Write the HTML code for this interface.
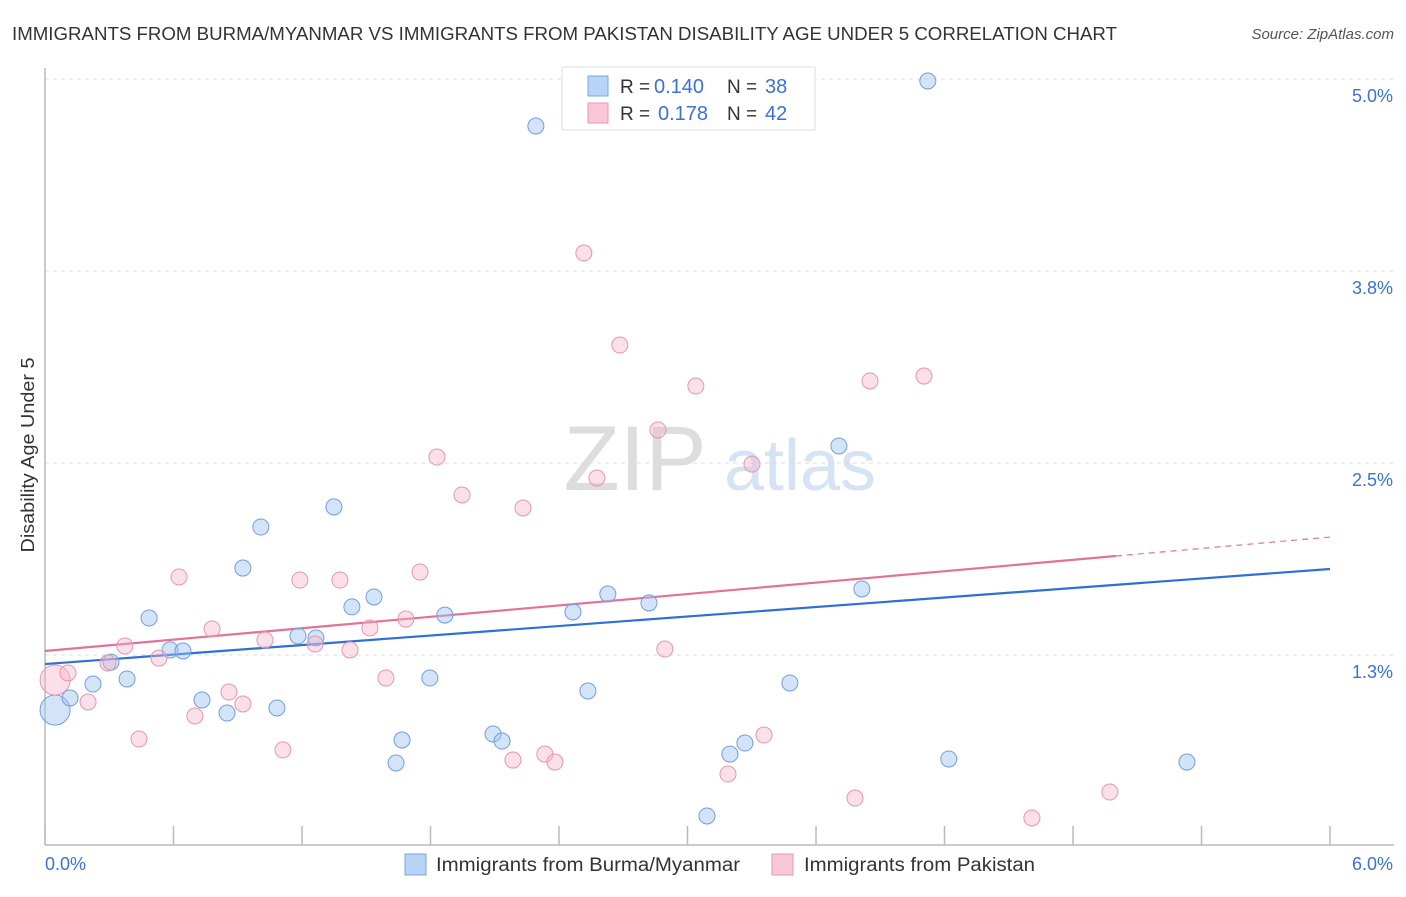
<!DOCTYPE html>
<html><head><meta charset="utf-8"><style>
body{margin:0;background:#fff;font-family:"Liberation Sans",sans-serif;}
svg text{font-family:"Liberation Sans",sans-serif;}
</style></head><body>
<svg id="chart" width="1406" height="892" viewBox="0 0 1406 892" xmlns="http://www.w3.org/2000/svg">
<text x="12" y="40" font-size="18" fill="#333" textLength="1105" lengthAdjust="spacingAndGlyphs">IMMIGRANTS FROM BURMA/MYANMAR VS IMMIGRANTS FROM PAKISTAN DISABILITY AGE UNDER 5 CORRELATION CHART</text>
<text x="1394" y="39" font-size="15" fill="#555" font-style="italic" text-anchor="end">Source: ZipAtlas.com</text>
<text x="635" y="490" font-size="92" fill="#ddd" font-family="Liberation Serif" text-anchor="middle">ZIP</text>
<text x="800" y="490" font-size="72" fill="#d5e3f5" text-anchor="middle">atlas</text>
<text transform="translate(34,455) rotate(-90)" font-size="18" fill="#333" text-anchor="middle" textLength="195" lengthAdjust="spacingAndGlyphs">Disability Age Under 5</text>
<g id="grid"></g><g id="axes"></g><g id="trends"></g><g id="points"></g>
<g>
<rect x="562" y="67" width="253" height="63" fill="#fff" stroke="#ddd"/>
<rect x="588" y="76" width="20" height="20" fill="#b8d3f5" stroke="#7aa7e0"/>
<text x="620" y="93" font-size="19" fill="#333">R =</text>
<text x="654" y="93" font-size="20" fill="#3a72d6">0.140</text>
<text x="727" y="93" font-size="19" fill="#333">N =</text>
<text x="765" y="93" font-size="20" fill="#3a72d6">38</text>
<rect x="588" y="103" width="20" height="20" fill="#f9c6d6" stroke="#e899b3"/>
<text x="620" y="120" font-size="19" fill="#333">R =</text>
<text x="658" y="120" font-size="20" fill="#3a72d6">0.178</text>
<text x="727" y="120" font-size="19" fill="#333">N =</text>
<text x="765" y="120" font-size="20" fill="#3a72d6">42</text>
</g>
<g>
<rect x="405" y="854" width="21" height="21" fill="#b8d3f5" stroke="#7aa7e0"/>
<text x="436" y="871" font-size="19" fill="#333" textLength="304" lengthAdjust="spacingAndGlyphs">Immigrants from Burma/Myanmar</text>
<rect x="772" y="854" width="21" height="21" fill="#f9c6d6" stroke="#e899b3"/>
<text x="804" y="871" font-size="19" fill="#333" textLength="231" lengthAdjust="spacingAndGlyphs">Immigrants from Pakistan</text>
</g>
</svg>
<script>
const blueX=[0.047,0.117,0.224,0.308,0.383,0.486,0.584,0.644,0.733,0.850,0.924,1.008,1.083,1.181,1.265,1.349,1.433,1.536,1.639,1.667,1.797,1.867,2.092,2.134,2.292,2.465,2.535,2.628,2.820,3.091,3.198,3.268,3.478,3.707,3.814,4.122,4.220,5.332];
const blueY=[0.892,0.970,1.061,1.204,1.094,1.491,1.283,1.276,0.957,0.872,1.816,2.083,0.905,1.374,1.361,2.214,1.563,1.628,0.547,0.697,1.100,1.510,0.736,0.690,4.694,1.530,1.016,1.647,1.589,0.202,0.605,0.677,1.068,2.611,1.680,4.987,0.573,0.553];
const pinkX=[0.047,0.107,0.201,0.294,0.373,0.439,0.532,0.626,0.700,0.780,0.859,0.924,1.027,1.111,1.190,1.261,1.377,1.424,1.517,1.592,1.685,1.751,1.830,1.947,2.185,2.232,2.334,2.381,2.516,2.577,2.684,2.862,2.894,3.039,3.189,3.301,3.357,3.782,3.852,4.104,4.608,4.972];
const pinkY=[1.087,1.133,0.944,1.198,1.309,0.703,1.230,1.758,0.853,1.419,1.009,0.931,1.348,0.632,1.738,1.322,1.738,1.283,1.426,1.100,1.484,1.790,2.539,2.292,0.566,2.207,0.605,0.553,3.867,2.402,3.268,2.715,1.289,3.001,0.475,2.493,0.729,0.319,3.034,3.066,0.189,0.358];
const blueTrend=[1.191,1.810];
const pinkTrend=[1.276,2.018];
const yTicks=[1.25,2.5,3.75,5.0];
const yTickLabels=["1.3%","2.5%","3.8%","5.0%"];
const xTicks=[0,0.6,1.2,1.8,2.4,3.0,3.6,4.2,4.8,5.4,6.0];
const NS="http://www.w3.org/2000/svg";
const xs=v=>45+v*214.17;
const ys=v=>847-v*153.6;
function mk(tag,attrs,parent){const e=document.createElementNS(NS,tag);for(const k in attrs)e.setAttribute(k,attrs[k]);parent.appendChild(e);return e;}
const grid=document.getElementById('grid'),axes=document.getElementById('axes'),trends=document.getElementById('trends'),pts=document.getElementById('points');
yTicks.forEach((t,i)=>{
 const l=mk('line',{x1:45,x2:1394,y1:ys(t),y2:ys(t),stroke:'#ddd','stroke-dasharray':'4,4'},grid);
 
 
 const tx=mk('text',{x:1393,y:ys(t)+23,'font-size':18,fill:'#3a72d6','text-anchor':'end'},grid);
 tx.textContent=yTickLabels[i];
 
 
});
const ax=mk('line',{x1:45,x2:1394,y1:845,y2:845,stroke:'#bbb','stroke-width':1.5},axes);


const ay=mk('line',{x1:45,x2:45,y1:68,y2:845,stroke:'#bbb','stroke-width':1.5},axes);


xTicks.forEach(t=>{
 const l=mk('line',{x1:xs(t),x2:xs(t),y1:826,y2:845,stroke:'#bbb','stroke-width':1.5},axes);
 
 
});
const xl0=mk('text',{x:45,y:870,'font-size':18,fill:'#3a72d6'},axes);xl0.textContent='0.0%';


const xl1=mk('text',{x:1393,y:870,'font-size':18,fill:'#3a72d6','text-anchor':'end'},axes);xl1.textContent='6.0%';


function drawPts(X,Y,fill,stroke,name){
 X.forEach((x,i)=>{
  const r=(i===0)?15:8;
  const c=mk('circle',{cx:xs(x),cy:ys(Y[i]),r:r,fill:fill,stroke:stroke,'stroke-width':1},pts);
  
  
 });
}
drawPts(blueX,blueY,'rgba(160,195,240,0.45)','#6f9fdf','point-burma');
drawPts(pinkX,pinkY,'rgba(246,178,200,0.4)','#e895b0','point-pakistan');
const tb=mk('line',{x1:xs(0),y1:ys(blueTrend[0]),x2:xs(6),y2:ys(blueTrend[1]),stroke:'#2f6fd6','stroke-width':2.2},trends);


const pm=5.0, pv=pinkTrend[0]+(pinkTrend[1]-pinkTrend[0])*pm/6;
const tp=mk('line',{x1:xs(0),y1:ys(pinkTrend[0]),x2:xs(pm),y2:ys(pv),stroke:'#e4719a','stroke-width':2.2},trends);


const tpd=mk('line',{x1:xs(pm),y1:ys(pv),x2:xs(6),y2:ys(pinkTrend[1]),stroke:'#e4719a','stroke-width':1.2,'stroke-dasharray':'6,5'},trends);


</script>
</body></html>
